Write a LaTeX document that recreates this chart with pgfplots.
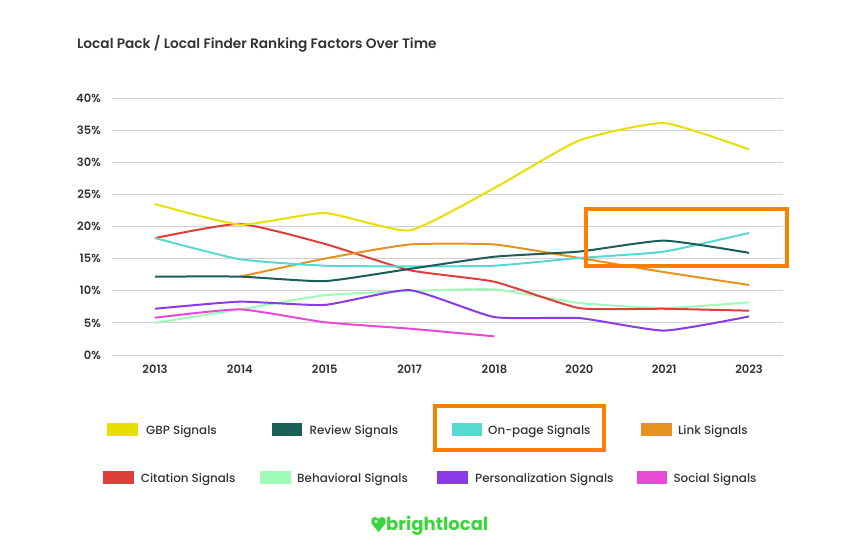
\documentclass[border=0pt]{standalone}
\usepackage{pgfplots}
\pgfplotsset{compat=1.18}
\usepackage{fontspec}
\setmainfont{Poppins}[BoldFont={Poppins SemiBold}]
\newfontfamily\popmed{Poppins Medium}
\newfontfamily\popbold{Poppins Bold}
\definecolor{cGBP}{RGB}{232,222,0}
\definecolor{cRev}{RGB}{26,94,90}
\definecolor{cOn}{RGB}{86,217,210}
\definecolor{cLink}{RGB}{230,146,31}
\definecolor{cCit}{RGB}{222,63,58}
\definecolor{cBeh}{RGB}{158,251,184}
\definecolor{cPer}{RGB}{138,58,230}
\definecolor{cSoc}{RGB}{232,74,214}
\definecolor{cBox}{RGB}{255,128,0}
\definecolor{cTxt}{RGB}{51,51,51}
\definecolor{cLogo}{RGB}{60,214,60}
\begin{document}
\begin{tikzpicture}[x=1pt,y=1pt]
\path (0,0) rectangle (860,-558);
\node[anchor=base west,inner sep=0pt,text=cTxt,font=\fontsize{13.7}{16}\selectfont\bfseries] at (77,-48) {Local Pack / Local Finder Ranking Factors Over Time};
\begin{axis}[
  at={(112pt,-355pt)}, anchor=south west,
  width=671pt, height=257pt, scale only axis,
  xmin=-0.507, xmax=7.40, ymin=0, ymax=40,
  axis line style={draw=none}, tick style={draw=none},
  ymajorgrids, grid style={line width=1pt, black!18},
  ytick={0,5,...,40},
  yticklabel={\pgfmathprintnumber{\tick}\%},
  /pgf/number format/assume math mode=true,
  xtick={0,...,7},
  xticklabels={2013,2014,2015,2017,2018,2020,2021,2023},
  yticklabel style={font=\fontsize{11.5}{13}\selectfont\bfseries, text=cTxt, inner sep=0pt, anchor=east, xshift=-11pt},
  xticklabel style={font=\fontsize{11.5}{13}\selectfont\bfseries, text=cTxt, inner sep=0pt, anchor=north, yshift=-10pt},
  every axis plot/.append style={line width=2pt, smooth, tension=0.3, mark=none},
]
\addplot[color=cBeh] coordinates {(0,5.0) (1,7.1) (2,9.3) (3,9.95) (4,10.2) (5,8.1) (6,7.3) (7,8.2)};
\addplot[color=cSoc] coordinates {(0,5.8) (1,7.1) (2,5.1) (3,4.1) (4,2.9)};
\addplot[color=cPer] coordinates {(0,7.2) (1,8.3) (2,7.8) (3,10.1) (4,5.9) (5,5.75) (6,3.8) (7,6.0)};
\addplot[color=cCit] coordinates {(0,18.2) (1,20.4) (2,17.3) (3,13.2) (4,11.4) (5,7.3) (6,7.2) (7,6.9)};
\addplot[color=cLink] coordinates {(1,12.2) (2,15.0) (3,17.2) (4,17.2) (5,15.1) (6,12.9) (7,10.9)};
\addplot[color=cOn] coordinates {(0,18.2) (1,14.9) (2,13.9) (3,13.8) (4,13.9) (5,15.1) (6,16.1) (7,19.0)};
\addplot[color=cRev] coordinates {(0,12.2) (1,12.2) (2,11.5) (3,13.4) (4,15.3) (5,16.1) (6,17.8) (7,15.9)};
\addplot[color=cGBP] coordinates {(0,23.5) (1,20.3) (2,22.1) (3,19.4) (4,26.0) (5,33.4) (6,36.1) (7,32.0)};
\end{axis}
% highlight boxes
\draw[cBox, line width=4pt] (585.5,-208.5) rectangle (786.5,-265.5);
\draw[cBox, line width=4pt] (435,-406) rectangle (604,-450);
% legend
\tikzset{lt/.style={anchor=base west, inner sep=0pt, text=cTxt, font=\fontsize{11.9}{14}\popmed}}
\fill[cGBP] (107.3,-423) rectangle (138.3,-436);
\node[lt] at (146,-434) {GBP Signals};
\fill[cRev] (271.7,-423) rectangle (302.3,-436);
\node[lt] at (309.3,-434) {Review Signals};
\fill[cOn] (451.7,-423) rectangle (482.3,-436);
\node[lt] at (488,-434) {On-page Signals};
\fill[cLink] (641,-423) rectangle (671.7,-436);
\node[lt] at (678,-434) {Link Signals};
\fill[cCit] (103.3,-471) rectangle (134.3,-484);
\node[lt] at (140.7,-482) {Citation Signals};
\fill[cBeh] (260,-471) rectangle (291,-484);
\node[lt] at (297,-482) {Behavioral Signals};
\fill[cPer] (437.3,-471) rectangle (468.3,-484);
\node[lt] at (475,-482) {Personalization Signals};
\fill[cSoc] (636.7,-471) rectangle (667.3,-484);
\node[lt] at (673.3,-482) {Social Signals};
% logo
\fill[cLogo] (378.5,-532) -- (372.3,-524.5) .. controls (370.3,-521.5) and (371.3,-517) .. (375,-517) .. controls (377,-517) and (378.5,-519) .. (378.5,-519) .. controls (378.5,-519) and (380,-517) .. (382,-517) .. controls (385.7,-517) and (386.7,-521.5) .. (384.7,-524.5) -- cycle;
\fill[white] (376,-521.5) circle (1.6);
\node[anchor=base west, inner sep=0pt, text=cLogo, font=\fontsize{18}{20}\popbold] at (386,-530) {brightlocal};
\end{tikzpicture}
\end{document}
